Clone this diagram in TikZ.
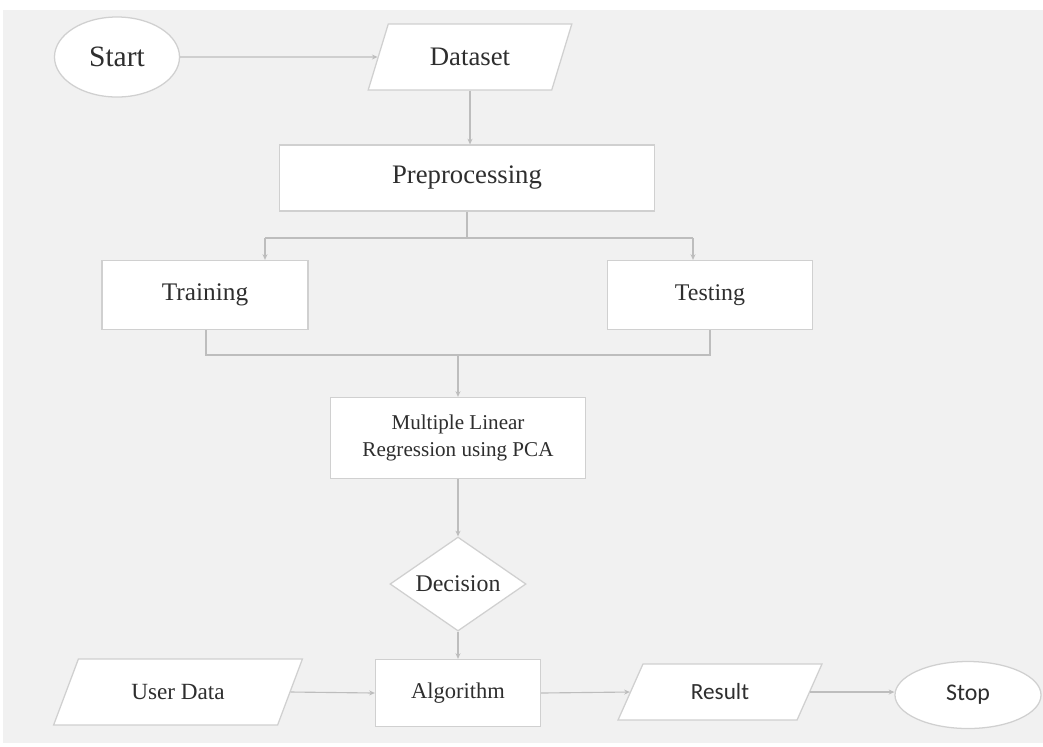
\documentclass[tikz,border=0pt]{standalone}
\usepackage{fontspec}
\setmainfont{Liberation Serif}
\newfontfamily\carlitofont{Carlito}
\usetikzlibrary{shapes.geometric,arrows.meta}
\definecolor{panelgray}{HTML}{F1F1F1}
\definecolor{edgegray}{HTML}{D0D0D0}
\definecolor{linegray}{HTML}{BDBDBD}
\definecolor{textgray}{HTML}{2E2E2E}

\begin{document}
\begin{tikzpicture}[x=0.025cm, y=-0.025cm,
	box/.style={draw=edgegray, line width=0.9pt, fill=white, inner sep=0pt, text=textgray},
	procbox/.style={box, rectangle},
	iobox/.style={box, trapezium, trapezium stretches=true},
	termbox/.style={box, ellipse},
	flow/.style={draw=linegray, line width=0.8pt},
	arr/.style={flow, -{Stealth[length=4pt,width=3.5pt]}}]
	\useasboundingbox (0,0) rectangle (1043,746);
	\fill [panelgray] (3,10) rectangle (1043,743);

	%top row:
	\node (start) at (117,57) [termbox, minimum width=3.125cm, minimum height=2cm, font=\fontsize{21}{24}\selectfont] {Start};
	\node (data) at (470,57) [iobox, trapezium left angle=61, trapezium right angle=119, minimum width=5.125cm, minimum height=1.65cm, font=\fontsize{19}{22}\selectfont] {Dataset};
	\draw [arr] (start.east) -- (data.west);

	\node (pre) at (467,178) [procbox, minimum width=9.375cm, minimum height=1.65cm, font=\fontsize{19}{22}\selectfont] {Preprocessing};
	\draw [arr] (data.south) -- (data.south |- pre.north);

	%split into training and testing:
	\node (train) at (205,295) [procbox, minimum width=5.15cm, minimum height=1.725cm, font=\fontsize{18}{21}\selectfont] {Training};
	\node (test) at (710,295) [procbox, minimum width=5.125cm, minimum height=1.725cm, font=\fontsize{17}{20}\selectfont] {Testing};
	\coordinate (splitL) at (265,238);
	\coordinate (splitR) at (693,238);
	\draw [flow] (pre.south) -- (pre.south |- splitL);
	\draw [flow] (splitL) -- (splitR);
	\draw [arr] (splitL) -- (splitL |- train.north);
	\draw [arr] (splitR) -- (splitR |- test.north);

	%merge into the model:
	\node (mlr) at (458,438) [procbox, minimum width=6.375cm, minimum height=2.025cm, align=center, font=\fontsize{15}{19}\selectfont] {Multiple Linear\\Regression using PCA};
	\coordinate (mergeL) at (206,355);
	\coordinate (mergeR) at (710,355);
	\draw [flow] (mergeL |- train.south) -- (mergeL) -- (mergeR) -- (mergeR |- test.south);
	\draw [arr] (mlr.north |- mergeL) -- (mlr.north);

	\node (dec) at (458,584) [box, diamond, aspect=1.45, minimum width=3.4cm, minimum height=2.35cm, font=\fontsize{17}{20}\selectfont] {Decision};
	\draw [arr] (mlr.south) -- (dec.north);

	%bottom row:
	\node (alg) at (458,693) [procbox, minimum width=4.125cm, minimum height=1.675cm, font=\fontsize{16}{19}\selectfont] {Algorithm};
	\draw [arr] (dec.south) -- (alg.north);

	\node (user) at (178,692) [iobox, trapezium left angle=53, trapezium right angle=127, minimum width=6.25cm, minimum height=1.65cm, font=\fontsize{16.5}{19}\selectfont] {User Data};
	\node (result) at (720,692) [iobox, trapezium left angle=60, trapezium right angle=120, minimum width=5.125cm, minimum height=1.4cm, font=\fontsize{16.5}{19}\selectfont\carlitofont] {Result};
	\node (stop) at (968,695) [termbox, minimum width=3.65cm, minimum height=1.675cm, font=\fontsize{17}{20}\selectfont\carlitofont] {Stop};
	\draw [arr] (user.east) -- (alg.west);
	\draw [arr] (alg.east) -- (result.west);
	\draw [arr] (result.east) -- (result.east -| stop.west);

\end{tikzpicture}
\end{document}
